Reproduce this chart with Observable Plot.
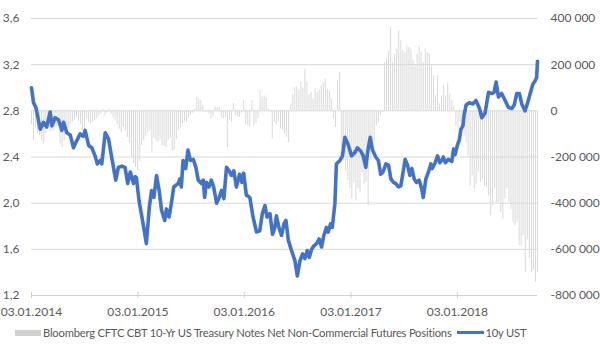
<!DOCTYPE html>
<html><head><meta charset="utf-8">
<script src="https://cdn.jsdelivr.net/npm/d3@7"></script>
<script src="https://cdn.jsdelivr.net/npm/@observablehq/plot@0.6"></script>
<style>
html,body{margin:0;padding:0;background:#fff;}
body{position:relative;width:600px;height:360px;font-family:Lato,"Open Sans",sans-serif;color:#595959;}
#chart{position:absolute;left:0;top:0;}
#legend{position:absolute;left:15px;top:325px;font-size:11.2px;letter-spacing:-0.2px;white-space:nowrap;display:flex;align-items:center;height:15px;}
.sw{display:inline-block;margin-right:2px;}
</style></head>
<body><div id="chart"></div>
<div id="legend"><span class="sw" style="width:26px;height:6px;background:#d0d0d0"></span><span id="l1"></span><span class="sw" style="width:27px;height:3px;background:#4472c4;margin-left:5px"></span><span id="l2"></span></div>
<script>
// X-axis tick labels (dates)
const yearTicks = ["2014-01-03","2015-01-03","2016-01-03","2017-01-03","2018-01-03"];
// left axis (10y UST yield, %)
const yieldTicks = [1.2,1.6,2.0,2.4,2.8,3.2,3.6];
// right axis (net positions, contracts)
const positionTicks = [-800000,-600000,-400000,-200000,0,200000,400000];
const seriesNames = ["Bloomberg CFTC CBT 10-Yr US Treasury Notes Net Non-Commercial Futures Positions","10y UST"];

// 10y UST yield [date, %]
const ust = [
["2014-01-03",3.00],["2014-01-10",2.87],["2014-01-18",2.83],["2014-02-02",2.64],["2014-02-13",2.70],
["2014-02-24",2.66],["2014-03-08",2.79],["2014-03-14",2.67],["2014-03-25",2.74],["2014-04-06",2.72],
["2014-04-17",2.63],["2014-04-23",2.70],["2014-05-04",2.61],["2014-05-16",2.59],["2014-05-27",2.48],
["2014-06-07",2.54],["2014-06-19",2.60],["2014-06-30",2.58],["2014-07-06",2.63],["2014-07-18",2.50],
["2014-07-29",2.48],["2014-08-09",2.41],["2014-08-17",2.34],["2014-08-27",2.37],["2014-09-01",2.34],
["2014-09-13",2.61],["2014-09-24",2.56],["2014-10-05",2.40],["2014-10-19",2.20],["2014-10-28",2.31],
["2014-11-09",2.32],["2014-11-20",2.31],["2014-11-29",2.17],["2014-12-08",2.27],["2014-12-19",2.17],
["2014-12-25",2.23],["2014-12-29",2.22],["2015-01-07",2.02],["2015-01-21",1.82],["2015-02-01",1.65],
["2015-02-11",1.96],["2015-02-19",2.11],["2015-02-27",2.05],["2015-03-08",2.24],["2015-03-17",2.11],
["2015-03-25",1.94],["2015-04-05",1.85],["2015-04-11",1.95],["2015-04-20",1.88],["2015-04-28",2.00],
["2015-05-06",2.14],["2015-05-21",2.17],["2015-05-27",2.21],["2015-06-01",2.14],["2015-06-07",2.37],
["2015-06-16",2.30],["2015-06-24",2.46],["2015-07-02",2.37],["2015-07-12",2.38],["2015-07-21",2.31],
["2015-07-29",2.20],["2015-08-09",2.17],["2015-08-15",2.20],["2015-08-20",2.05],["2015-08-26",2.18],
["2015-09-04",2.14],["2015-09-12",2.20],["2015-09-20",2.14],["2015-09-30",2.00],["2015-10-09",2.05],
["2015-10-17",2.11],["2015-10-25",2.04],["2015-11-03",2.31],["2015-11-12",2.28],["2015-11-20",2.24],
["2015-11-28",2.28],["2015-12-07",2.14],["2015-12-18",2.25],["2015-12-26",2.18],["2016-01-01",2.26],
["2016-01-10",2.07],["2016-01-22",2.05],["2016-02-02",1.88],["2016-02-14",1.75],["2016-02-25",1.76],
["2016-03-05",1.91],["2016-03-14",1.98],["2016-03-21",1.88],["2016-03-31",1.91],["2016-04-09",1.73],
["2016-04-17",1.79],["2016-04-22",1.89],["2016-05-02",1.78],["2016-05-10",1.72],["2016-05-18",1.82],
["2016-05-25",1.85],["2016-06-02",1.68],["2016-06-13",1.59],["2016-06-25",1.50],["2016-07-03",1.37],
["2016-07-12",1.50],["2016-07-21",1.56],["2016-07-29",1.52],["2016-08-06",1.59],["2016-08-13",1.53],
["2016-08-21",1.60],["2016-08-29",1.63],["2016-09-07",1.65],["2016-09-16",1.69],["2016-09-24",1.62],
["2016-10-02",1.72],["2016-10-11",1.79],["2016-10-17",1.75],["2016-10-25",1.82],["2016-10-31",1.79],
["2016-11-09",2.00],["2016-11-14",2.34],["2016-11-26",2.37],["2016-12-05",2.41],["2016-12-13",2.57],
["2016-12-24",2.51],["2017-01-05",2.41],["2017-01-17",2.44],["2017-01-25",2.48],["2017-02-06",2.45],
["2017-02-14",2.41],["2017-02-23",2.31],["2017-03-01",2.44],["2017-03-10",2.57],["2017-03-18",2.46],
["2017-03-29",2.40],["2017-04-07",2.37],["2017-04-15",2.25],["2017-04-23",2.27],["2017-05-03",2.34],
["2017-05-12",2.33],["2017-05-20",2.21],["2017-05-29",2.18],["2017-06-06",2.17],["2017-06-15",2.14],
["2017-06-23",2.15],["2017-07-01",2.27],["2017-07-08",2.38],["2017-07-16",2.33],["2017-07-24",2.24],
["2017-07-31",2.30],["2017-08-08",2.21],["2017-08-16",2.18],["2017-08-25",2.20],["2017-09-03",2.12],
["2017-09-08",2.05],["2017-09-17",2.21],["2017-09-26",2.27],["2017-10-04",2.34],["2017-10-09",2.30],
["2017-10-19",2.35],["2017-10-27",2.41],["2017-11-04",2.35],["2017-11-13",2.38],["2017-11-16",2.40],
["2017-11-23",2.35],["2017-12-03",2.38],["2017-12-15",2.36],["2017-12-21",2.47],["2017-12-26",2.42],
["2018-01-03",2.50],["2018-01-10",2.55],["2018-01-15",2.64],["2018-01-22",2.67],["2018-01-26",2.76],
["2018-02-02",2.85],["2018-02-13",2.87],["2018-02-25",2.86],["2018-03-08",2.89],["2018-03-20",2.82],
["2018-03-28",2.74],["2018-04-08",2.78],["2018-04-20",2.96],["2018-05-01",2.95],["2018-05-09",2.96],
["2018-05-16",3.05],["2018-05-24",2.92],["2018-06-04",2.95],["2018-06-16",2.89],["2018-06-27",2.83],
["2018-07-09",2.82],["2018-07-17",2.85],["2018-07-26",2.95],["2018-08-04",2.95],["2018-08-12",2.86],
["2018-08-23",2.80],["2018-08-31",2.86],["2018-09-10",2.95],["2018-09-19",3.03],["2018-09-27",3.06],
["2018-10-02",3.09],["2018-10-05",3.23]
];

// CFTC net non-commercial positions, weekly from 2014-01-03, in thousands of contracts
const cftcStart = "2014-01-03";
const cftcThousands = [
-60,-130,-75,-95,-105,-130,-144,-100,-70,-90,
-88,-85,-75,-70,-144,-159,-130,-100,-80,-60,
-50,-43,-30,-45,-60,-85,-100,-35,-50,-60,
-50,-43,-35,-25,-15,7,-22,-10,4,-15,
-30,-45,-60,-80,-95,-70,-90,-115,-140,-200,
-230,-245,-260,-220,-150,-130,-110,-95,-85,-180,
-120,-130,-135,-125,-150,-155,-160,-130,-120,-175,
-170,-125,-85,-75,-55,-45,-50,-30,-20,-10,
5,58,50,45,22,-5,0,-15,-35,-25,
17,15,17,-30,-35,-30,-159,-40,-50,32,
-20,-25,-30,-10,43,-60,-65,-72,43,-65,
-55,-35,87,60,65,55,10,-5,-121,-50,
-58,-45,-80,-87,-100,-115,-137,30,70,100,
105,90,125,100,180,125,70,80,50,95,
80,90,110,120,137,94,87,51,-35,-72,
130,166,-160,-216,-260,-300,-338,-381,-310,-390,
-338,-355,-270,-320,-310,-411,-210,-137,-130,-65,
-50,-22,-7,209,224,260,360,209,245,267,
346,303,260,252,281,274,267,216,195,245,
281,252,209,267,252,245,195,152,65,152,
30,65,108,65,122,72,43,22,-65,-79,
-50,-87,-108,-137,-195,-325,-281,-338,-317,-267,
-310,-296,-325,-330,-368,-455,-411,-338,-397,-397,
-440,-468,-382,-338,-397,-426,-484,-498,-484,-584,
-584,-540,-700,-560,-640,-700,-690,-743,-700
];

const yieldData = ust.map(([d, v]) => ({date: new Date(d), value: v}));
const start = new Date(cftcStart);
const cftcData = cftcThousands.map((v, i) => ({date: d3.utcDay.offset(start, 7 * i), value: v * 1000}));

// map right-axis values onto the left (yield) scale: 0 <-> 2.8, 400000 <-> 3.6
const posToY = p => 2.8 + p / 500000;
const yToPos = y => Math.round((y - 2.8) * 500000);
const loc = d3.formatLocale({decimal: ",", thousands: " ", grouping: [3], currency: ["", ""], minus: "-"});
const fmtPos = loc.format(",");
const yearDates = yearTicks.map(d => new Date(d));
const endDate = cftcData[cftcData.length - 1].date;

const chart = Plot.plot({
  width: 600, height: 324,
  marginLeft: 31, marginRight: 63, marginTop: 18, marginBottom: 29,
  style: {fontFamily: "Lato, 'Open Sans', sans-serif", fontSize: "12px", color: "#595959", background: "#fff"},
  x: {type: "utc", domain: [start, endDate]},
  y: {domain: [yieldTicks[0], yieldTicks[yieldTicks.length - 1]]},
  marks: [
    Plot.ruleY(yieldTicks.slice(1), {stroke: "#d9d9d9", strokeWidth: 1}),
    Plot.ruleY([yieldTicks[0]], {stroke: "#d0d0d0", strokeWidth: 1}),
    Plot.ruleX(yearDates, {y1: yieldTicks[0] - 0.028, y2: yieldTicks[0] + 0.028, stroke: "#d0d0d0"}),
    Plot.ruleX(cftcData, {x: "date", y1: posToY(0), y2: d => posToY(d.value), stroke: "#d9d9d9", strokeWidth: 1}),
    Plot.line(yieldData, {x: "date", y: "value", stroke: "#4472c4", strokeWidth: 3.6, strokeLinejoin: "round", strokeLinecap: "round"}),
    Plot.axisY(yieldTicks, {anchor: "left", tickSize: 0, tickPadding: 12, tickFormat: d => d.toFixed(1).replace(".", ","), label: null}),
    Plot.axisY(positionTicks.map(posToY), {anchor: "right", tickSize: 0, tickPadding: 13, textAnchor: "start", tickFormat: y => fmtPos(yToPos(y)), label: null}),
    Plot.axisX(yearDates, {tickSize: 0, tickPadding: 12, tickFormat: d3.utcFormat("%d.%m.%Y"), label: null})
  ]
});
document.getElementById("chart").appendChild(chart);
document.getElementById("l1").textContent = seriesNames[0];
document.getElementById("l2").textContent = seriesNames[1];
</script>
</body></html>
